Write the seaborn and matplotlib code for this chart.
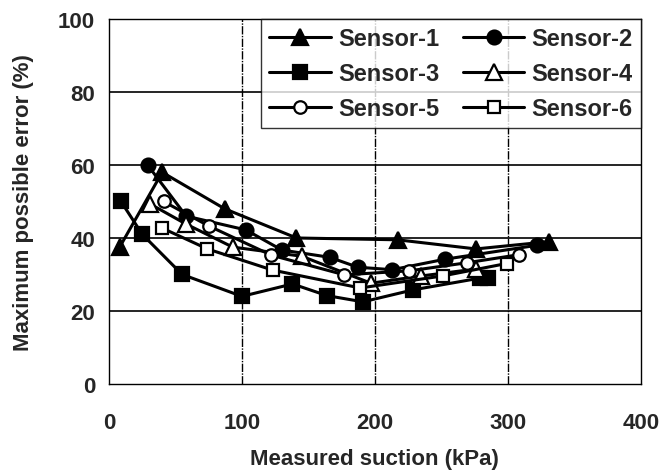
import matplotlib
matplotlib.use("Agg")
import matplotlib.pyplot as plt
import seaborn as sns
import pandas as pd

sns.set_style("white")
plt.rcParams['font.family'] = ['Liberation Sans', 'DejaVu Sans']
plt.rcParams['font.weight'] = 'bold'

s1_x = [8, 40, 87, 141, 217, 276, 331]
s1_y = [37.5, 58, 48, 40, 39.5, 37, 39]
s2_x = [29, 58, 103, 130, 166, 187, 213, 253, 322]
s2_y = [60, 46, 42.2, 36.7, 34.7, 32, 31.3, 34.2, 38]
s3_x = [9, 25, 55, 100, 138, 164, 191, 229, 279, 285]
s3_y = [50, 41, 30, 24, 27.4, 24.2, 22.5, 25.8, 29, 29]
s4_x = [31, 58, 93, 145, 197, 235, 276]
s4_y = [49.3, 43.8, 37.5, 35, 27.6, 29.6, 31.5]
s5_x = [41, 75, 122, 177, 226, 269, 308]
s5_y = [50, 43.3, 35.3, 29.9, 31, 33.2, 35.4]
s6_x = [40, 74, 123, 189, 251, 299]
s6_y = [42.7, 37, 31.2, 26.3, 29.6, 33]

labels = ["Sensor-1", "Sensor-2", "Sensor-3", "Sensor-4", "Sensor-5", "Sensor-6"]
xs = [s1_x, s2_x, s3_x, s4_x, s5_x, s6_x]
ys = [s1_y, s2_y, s3_y, s4_y, s5_y, s6_y]
markers = ["^", "o", "s", "^", "o", "s"]
filled = [True, True, True, False, False, False]
msizes = [11, 10, 10, 11, 9, 9]

fig = plt.figure(figsize=(6.62, 4.77), dpi=100)
ax = fig.add_axes([0.1647, 0.193, 0.8033, 0.765])

for lab, x, y, m, f, ms in zip(labels, xs, ys, markers, filled, msizes):
    df = pd.DataFrame({"x": x, "y": y})
    sns.lineplot(data=df, x="x", y="y", ax=ax, color="black", linewidth=2.2,
                 marker=m, markersize=ms, markeredgecolor="black",
                 markeredgewidth=1.6,
                 markerfacecolor="black" if f else "white", label=lab)

ax.set_xlim(0, 400)
ax.set_ylim(0, 100)
ax.set_xticks([0, 100, 200, 300, 400])
ax.set_yticks([0, 20, 40, 60, 80, 100])
for yv in [20, 40, 60, 80]:
    ax.axhline(yv, color="black", linewidth=1.2, zorder=0)
for xv in [100, 200, 300]:
    ax.axvline(xv, color="black", linewidth=1, linestyle=(0, (6, 1, 1, 1)), zorder=0)
for sp in ax.spines.values():
    sp.set_color("black")
    sp.set_linewidth(1)
ax.tick_params(axis="x", length=0, labelsize=16, pad=20)
ax.tick_params(axis="y", length=0, labelsize=16, pad=10)
for t in ax.get_xticklabels() + ax.get_yticklabels():
    t.set_fontweight("bold")
ax.set_xlabel("Measured suction (kPa)", fontsize=16, fontweight="bold", labelpad=11)
ax.set_ylabel("Maximum possible error (%)", fontsize=16, fontweight="bold", labelpad=17)

h, l = ax.get_legend_handles_labels()
order = [0, 2, 4, 1, 3, 5]
leg = ax.legend([h[i] for i in order], [l[i] for i in order], ncol=2,
                loc="upper right", bbox_to_anchor=(1.0, 1.0),
                frameon=True, fancybox=False, fontsize=17, handlelength=2.6,
                columnspacing=1.0, handletextpad=0.3, borderpad=0.35,
                labelspacing=0.5, borderaxespad=0)
leg.get_frame().set_edgecolor("black")
leg.get_frame().set_linewidth(1)
for t in leg.get_texts():
    t.set_fontweight("bold")

fig.savefig("out.png", dpi=100)
